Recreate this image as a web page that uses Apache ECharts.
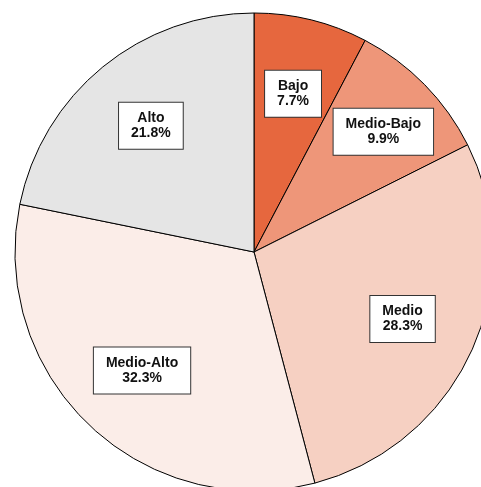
<!DOCTYPE html>
<html>
<head>
<meta charset="utf-8">
<script src="https://cdn.jsdelivr.net/npm/echarts@6/dist/echarts.min.js"></script>
<style>
  html, body { margin: 0; padding: 0; background: #fff; }
  #chart { width: 481px; height: 487px; }
</style>
</head>
<body>
<div id="chart"></div>
<script>
// datos del gráfico
var categorias = ["Bajo", "Medio-Bajo", "Medio", "Medio-Alto", "Alto"];
var porcentajes = [7.7, 9.9, 28.3, 32.3, 21.8];
var colores = ["#e6673e", "#ee9679", "#f6d0c2", "#fbede8", "#e5e5e5"];

var datos = categorias.map(function (c, i) {
  return { name: c, value: porcentajes[i], itemStyle: { color: colores[i] } };
});

var centro = [254, 252];

var chart = echarts.init(document.getElementById("chart"));
chart.setOption({
  animation: false,
  series: [
    {
      // las porciones
      type: "pie",
      center: centro,
      radius: 239,
      startAngle: 90,
      clockwise: true,
      data: datos,
      itemStyle: { borderColor: "#000", borderWidth: 1 },
      label: { show: false },
      labelLine: { show: false },
      emphasis: { disabled: true }
    },
    {
      // anillo invisible solo para colocar las etiquetas
      type: "pie",
      center: centro,
      radius: [81, 239],
      startAngle: 90,
      clockwise: true,
      avoidLabelOverlap: false,
      minShowLabelAngle: 0,
      data: datos.map(function (d) { return { name: d.name, value: d.value }; }),
      itemStyle: { color: "rgba(0,0,0,0)", borderWidth: 0 },
      emphasis: { disabled: true },
      silent: true,
      label: {
        show: true,
        position: "inside",
        formatter: function (p) {
          return p.name + "\n" + p.value.toFixed(1) + "%";
        },
        fontFamily: "Liberation Sans",
        fontWeight: "bold",
        fontSize: 14,
        lineHeight: 15,
        color: "#111",
        backgroundColor: "#fff",
        borderColor: "#333",
        borderWidth: 1,
        padding: [8, 12]
      },
      labelLayout: function (p) {
        // Medio-Bajo va un poco más afuera
        if (p.dataIndex === 1) return { dx: 13, dy: -6, hideOverlap: false };
        return { hideOverlap: false };
      },
      labelLine: { show: false }
    }
  ]
});
</script>
</body>
</html>
